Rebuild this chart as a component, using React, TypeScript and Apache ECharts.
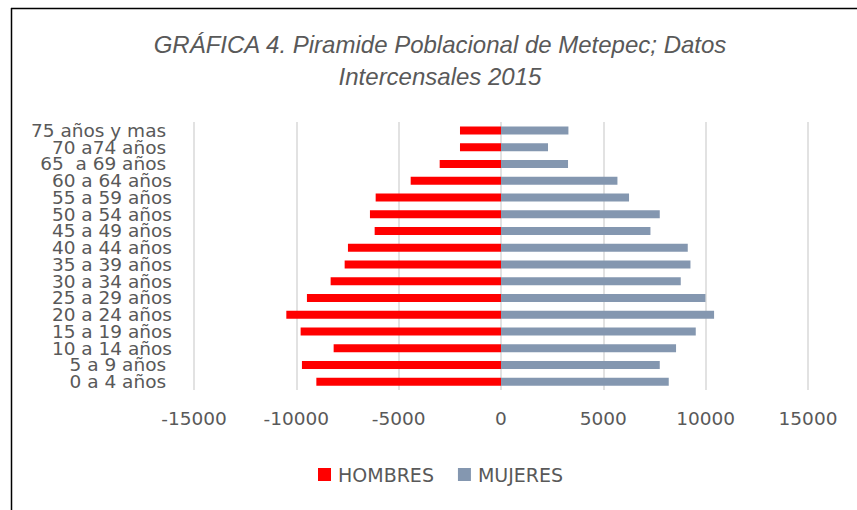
import React, { useEffect, useRef } from "react";
import * as echarts from "echarts";

const categories = [
  "0 a 4 años ",
  "5 a 9 años ",
  "10 a 14 años",
  "15 a 19 años",
  "20 a 24 años",
  "25 a 29 años",
  "30 a 34 años",
  "35 a 39 años",
  "40 a 44 años",
  "45 a 49 años",
  "50 a 54 años",
  "55 a 59 años",
  "60 a 64 años",
  "65  a 69 años ",
  "70 a74 años ",
  "75 años y mas ",
];
const hombres = [-9022, -9726, -8177, -9790, -10489, -9482, -8324, -7639, -7478, -6173, -6403, -6124, -4413, -2996, -2004, -2004];
const mujeres = [8196, 7757, 8553, 9516, 10411, 9990, 8783, 9257, 9125, 7302, 7757, 6256, 5689, 3275, 2297, 3294];
const seriesNames = ["HOMBRES", "MUJERES"];
const titleLines = ["GRÁFICA 4. Piramide Poblacional de Metepec; Datos", "Intercensales 2015"];

const TXT = "#595959";
const FONT = "DejaVu Sans";

export default function App() {
  const ref = useRef<HTMLDivElement>(null);
  useEffect(() => {
    if (!ref.current) return;
    const chart = echarts.init(ref.current, undefined, { renderer: "svg" });
    chart.setOption({
      animation: false,
      backgroundColor: "#ffffff",
      title: {
        text: titleLines.join("\n"),
        left: 440,
        top: 28,
        textAlign: "center",
        padding: 0,
        textStyle: {
          fontFamily: "Liberation Sans",
          fontStyle: "italic",
          fontWeight: "normal",
          fontSize: 24,
          lineHeight: 32,
          color: TXT,
        },
      },
      legend: {
        data: seriesNames,
        left: 318,
        top: 465,
        padding: 0,
        itemWidth: 13,
        itemHeight: 13,
        itemGap: 24,
        icon: "rect",
        textStyle: { fontFamily: FONT, fontSize: 19, color: TXT, padding: [0, 0, 0, 2] },
      },
      grid: { left: 194, right: 49, top: 122, bottom: 120, containLabel: false },
      xAxis: {
        type: "value",
        min: -15000,
        max: 15000,
        interval: 5000,
        axisLine: { show: false },
        axisTick: { show: false },
        splitLine: { show: true, lineStyle: { color: "#D9D9D9", width: 1.5 } },
        axisLabel: {
          fontFamily: FONT,
          fontSize: 18.5,
          color: TXT,
          margin: 19,
          formatter: (v: number) => String(v),
        },
      },
      yAxis: {
        type: "category",
        data: categories,
        axisLine: { show: false },
        axisTick: { show: false },
        axisLabel: { interval: 0, fontFamily: FONT, fontSize: 18.5, color: TXT, margin: 22, lineHeight: 16 },
      },
      graphic: [
        { type: "line", shape: { x1: 11, y1: 8.5, x2: 857, y2: 8.5 }, style: { stroke: "#000", lineWidth: 1.5 } },
        { type: "line", shape: { x1: 11.5, y1: 8, x2: 11.5, y2: 510 }, style: { stroke: "#000", lineWidth: 1.5 } },
      ],
      series: [
        {
          name: seriesNames[0],
          type: "bar",
          stack: "pop",
          data: hombres,
          barWidth: 8,
          itemStyle: { color: "#FF0000" },
        },
        {
          name: seriesNames[1],
          type: "bar",
          stack: "pop",
          data: mujeres,
          barWidth: 8,
          itemStyle: { color: "#8497B0" },
        },
      ],
    });
    return () => chart.dispose();
  }, []);
  return (
    <div
      ref={ref}
      style={{ position: "absolute", left: 0, top: 0, width: 857, height: 510, background: "#fff" }}
    />
  );
}
